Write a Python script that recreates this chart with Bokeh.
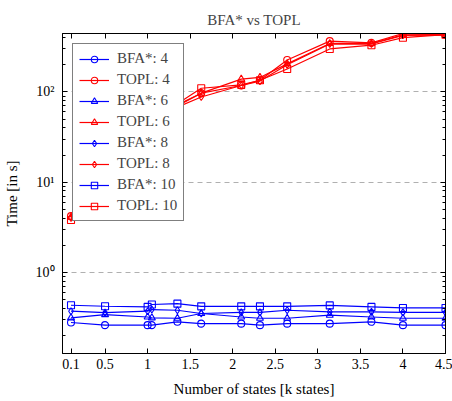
from bokeh.plotting import figure
from bokeh.models import (Range1d, LogAxis, LinearAxis, FixedTicker, Legend, LegendItem,
                          CustomJSTickFormatter)
from bokeh.embed import file_html
from bokeh.resources import INLINE

x_states = [0.1, 0.5, 1.0, 1.05, 1.35, 1.63, 2.1, 2.32, 2.64, 3.14, 3.63, 4.0, 4.5]

bfa_4 = [0.278, 0.26, 0.26, 0.26, 0.283, 0.27, 0.27, 0.26, 0.27, 0.27, 0.283, 0.26, 0.26]
bfa_6 = [0.313, 0.34, 0.32, 0.313, 0.31, 0.35, 0.32, 0.31, 0.31, 0.335, 0.32, 0.31, 0.31]
bfa_8 = [0.371, 0.358, 0.371, 0.387, 0.38, 0.35, 0.36, 0.36, 0.38, 0.365, 0.365, 0.36, 0.36]
bfa_10 = [0.432, 0.421, 0.414, 0.44, 0.45, 0.42, 0.42, 0.42, 0.42, 0.43, 0.414, 0.403, 0.403]

topl_4 = [4.2, 26, 50, 52, 72, 97, 118, 135, 226, 366, 350, 445, 430]
topl_6 = [4.1, 25, 49, 51, 70, 97, 139, 145, 205, 345, 345, 430, 430]
topl_8 = [4.0, 24, 48, 50, 68, 88, 118, 132, 200, 340, 340, 425, 430]
topl_10 = [3.8, 23, 47, 49, 74, 110, 120, 135, 180, 300, 330, 400, 432]

series = [
    ("BFA*: 4", bfa_4, "#0000ff", "circle"),
    ("TOPL: 4", topl_4, "#ff0000", "circle"),
    ("BFA*: 6", bfa_6, "#0000ff", "triangle"),
    ("TOPL: 6", topl_6, "#ff0000", "triangle"),
    ("BFA*: 8", bfa_8, "#0000ff", "diamond"),
    ("TOPL: 8", topl_8, "#ff0000", "diamond"),
    ("BFA*: 10", bfa_10, "#0000ff", "square"),
    ("TOPL: 10", topl_10, "#ff0000", "square"),
]

x_ticks = [0.1, 0.5, 1, 1.5, 2, 2.5, 3, 3.5, 4, 4.5]
y_ticks = [1, 10, 100]
y_tick_labels = {1: "10\u2070", 10: "10\u00b9", 100: "10\u00b2"}
y_minor = [0.2, 0.3, 0.4, 0.5, 0.6, 0.7, 0.8, 0.9, 2, 3, 4, 5, 6, 7, 8, 9,
           20, 30, 40, 50, 60, 70, 80, 90, 200, 300, 400]

FONT = "Liberation Serif"

p = figure(width=452, height=401, x_range=Range1d(0, 4.5), y_range=Range1d(0.126, 445),
           y_axis_type="log", output_backend="svg", toolbar_location=None,
           min_border_left=59, min_border_top=33, min_border_bottom=48, min_border_right=7)

p.title.text = "BFA* vs TOPL"
p.title.align = "center"
p.title.text_font = FONT
p.title.text_font_size = "15px"
p.title.text_font_style = "normal"
p.title.standoff = 12

p.outline_line_color = "black"
p.outline_line_alpha = 1.0
p.xgrid.visible = False
p.ygrid.grid_line_color = "#b0b0b0"
p.ygrid.grid_line_dash = "5 4"
p.ygrid.grid_line_width = 1

xt = FixedTicker(ticks=x_ticks, minor_ticks=[])
yt = FixedTicker(ticks=y_ticks, minor_ticks=y_minor)

xa = p.xaxis[0]
xa.ticker = xt
xa.formatter = CustomJSTickFormatter(code="return tick.toString();")
ya = p.yaxis[0]
ya.ticker = yt
ya.major_label_overrides = y_tick_labels

for ax in (xa, ya):
    ax.major_tick_in = 5
    ax.major_tick_out = 0
    ax.minor_tick_in = 3
    ax.minor_tick_out = 0
    ax.axis_line_color = "black"
    ax.major_tick_line_color = "black"
    ax.minor_tick_line_color = "black"
    ax.major_label_text_font = FONT
    ax.major_label_text_font_size = "14px"
    ax.major_label_text_color = "black"
    ax.axis_label_text_font = FONT
    ax.axis_label_text_font_size = "15px"
    ax.axis_label_text_font_style = "normal"
    ax.axis_label_text_color = "black"

xa.axis_label = "Number of states [k states]"
ya.axis_label = "Time [in s]"
xa.major_label_standoff = 5
xa.axis_label_standoff = 9
ya.major_label_standoff = 8
ya.axis_label_standoff = 13

top = LinearAxis(ticker=xt, major_tick_in=5, major_tick_out=0, minor_tick_in=0, minor_tick_out=0,
                 major_label_text_font_size="1px", major_label_text_color=None,
                 major_label_standoff=0, axis_line_color="black")
right = LogAxis(ticker=yt, major_tick_in=5, major_tick_out=0, minor_tick_in=3, minor_tick_out=0,
                major_label_text_font_size="1px", major_label_text_color=None,
                major_label_standoff=0, axis_line_color="black")
p.add_layout(top, "above")
p.add_layout(right, "right")

items = []
for label, ys, color, marker in series:
    ln = p.line(x_states, ys, line_color=color, line_width=1.2)
    mk = p.scatter(x_states, ys, marker=marker, size=7, line_color=color, line_width=1.1,
                   fill_alpha=0)
    items.append(LegendItem(label=label, renderers=[ln, mk]))

legend = Legend(items=items, location="top_left")
legend.margin = 10
legend.padding = 6
legend.spacing = 4
legend.glyph_height = 16
legend.label_height = 16
legend.glyph_width = 30
legend.label_standoff = 8
legend.label_text_font = FONT
legend.label_text_font_size = "15px"
legend.border_line_color = "black"
legend.border_line_width = 1
legend.background_fill_color = "white"
legend.background_fill_alpha = 1.0
p.add_layout(legend, "center")

open("out.html", "w").write(file_html(p, INLINE))
